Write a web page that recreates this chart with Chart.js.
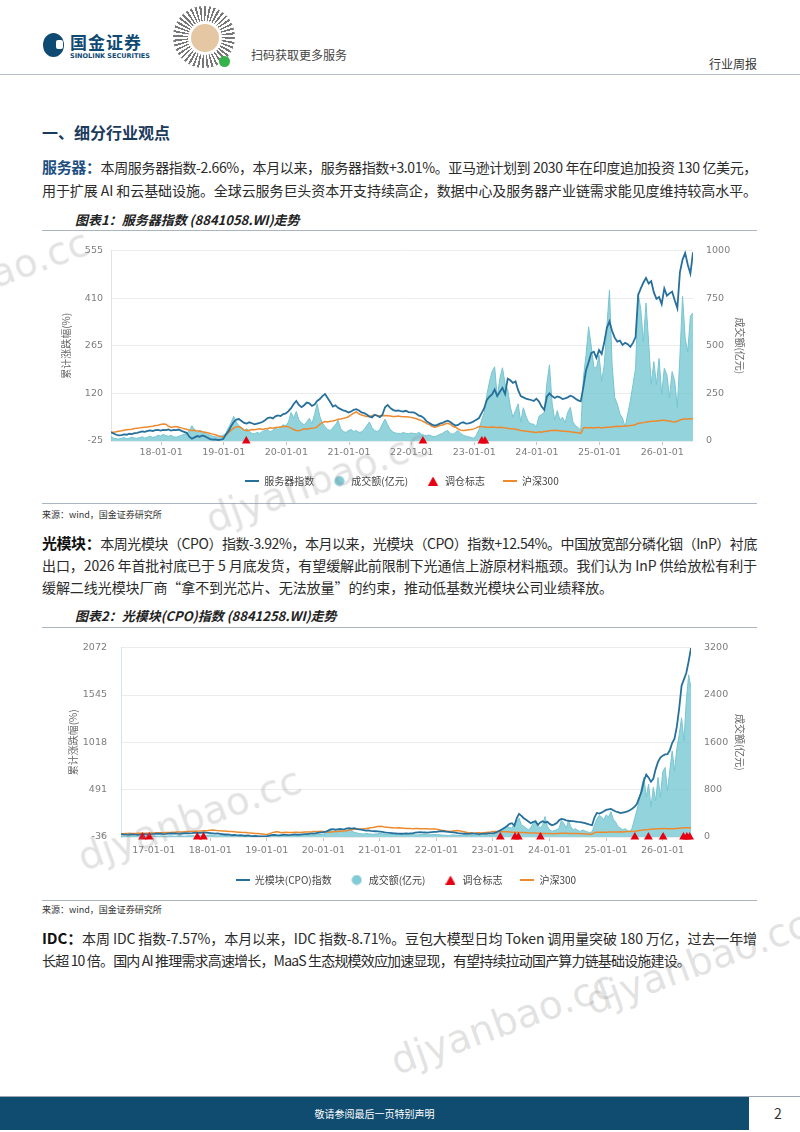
<!DOCTYPE html>
<html lang="zh-CN">
<head>
<meta charset="UTF-8">
<script src="https://cdn.jsdelivr.net/npm/chart.js"></script>
<title>行业周报</title>
<style>
  html, body { margin: 0; padding: 0; }
  body { width: 800px; height: 1132px; position: relative; overflow: hidden; background: #fff;
         font-family: 'Noto Sans CJK SC', sans-serif; color: #2b2b2b; }
  .abs { position: absolute; }
  .rule { position: absolute; left: 42px; width: 715px; height: 0; border-top: 1px solid #a9b5c1; }
  .ln { position: absolute; left: 42px; white-space: nowrap; font-size: 14px; line-height: 20px; color: #2b2b2b; }
  .ln b { color: #111; font-size: 15px; }
  .ln b.blue { color: #1d4f80; }
  .cap { position: absolute; left: 75px; font-size: 13px; line-height: 18px; font-style: italic; font-weight: 700; color: #222; }
  .src { position: absolute; left: 42px; font-size: 9px; line-height: 12px; color: #333; }
  .wm { position: absolute; font-family: 'DejaVu Sans', sans-serif; font-size: 39px; color: rgba(140,140,140,0.25);
        transform: rotate(-20deg); transform-origin: center; white-space: nowrap; }
  canvas { position: absolute; left: 42px; }
</style>
</head>
<body>

<!-- header -->
<div class="abs" style="left:43px;top:33px;width:21px;height:24px;border-radius:50%;background:#0f4a73"></div>
<div class="abs" style="left:56px;top:40px;width:7px;height:9px;border-radius:2px;background:#fff"></div>
<div class="abs" style="left:70px;top:31px;font-size:17px;font-weight:700;color:#0f4a73;letter-spacing:1px;line-height:22px">国金证券</div>
<div class="abs" style="left:70px;top:52px;font-family:'DejaVu Sans',sans-serif;font-size:6.5px;font-weight:700;color:#0f4a73;line-height:8px">SINOLINK SECURITIES</div>
<div class="abs" style="left:173px;top:6px;width:62px;height:62px;border-radius:50%;background:repeating-conic-gradient(#4a4a4a 0 4deg,#fff 4deg 9deg);opacity:.75"></div>
<div class="abs" style="left:188px;top:21px;width:28px;height:28px;border-radius:50%;background:#e5c7a3;border:3px solid #fff"></div>
<div class="abs" style="left:219px;top:56px;width:11px;height:11px;border-radius:50%;background:#35b34a"></div>
<div class="abs" style="left:251px;top:47px;font-size:12px;line-height:16px;color:#444">扫码获取更多服务</div>
<div class="abs" style="left:709px;top:56px;font-size:12px;line-height:16px;color:#333">行业周报</div>
<div class="abs" style="left:0;top:74px;width:800px;border-top:1px solid #b3bdc7"></div>

<div class="abs" style="left:42px;top:121px;font-size:16px;line-height:22px;font-weight:700;color:#1b3a5c">一、细分行业观点</div>

<div class="ln" data-w="715" style="top:157px"><b class="blue">服务器：</b>本周服务器指数-2.66%，本月以来，服务器指数+3.01%。亚马逊计划到 2030 年在印度追加投资 130 亿美元，</div>
<div class="ln" data-w="715" style="top:180px">用于扩展 AI 和云基础设施。全球云服务巨头资本开支持续高企，数据中心及服务器产业链需求能见度维持较高水平。</div>

<div class="cap" style="top:211px">图表1：服务器指数 (8841058.WI)走势</div>
<div class="rule" style="top:230px"></div>
<canvas id="chart1" width="715" height="268" style="top:232px;width:715px;height:268px"></canvas>
<div class="rule" style="top:503px"></div>
<div class="src" style="top:509px">来源：wind，国金证券研究所</div>

<div class="ln" data-w="715" style="top:533px"><b>光模块：</b>本周光模块（CPO）指数-3.92%，本月以来，光模块（CPO）指数+12.54%。中国放宽部分磷化铟（InP）衬底</div>
<div class="ln" data-w="715" style="top:555px">出口，2026 年首批衬底已于 5 月底发货，有望缓解此前限制下光通信上游原材料瓶颈。我们认为 InP 供给放松有利于</div>
<div class="ln" data-w="571" style="top:577px">缓解二线光模块厂商“拿不到光芯片、无法放量”的约束，推动低基数光模块公司业绩释放。</div>

<div class="cap" style="top:607px">图表2：光模块(CPO)指数 (8841258.WI)走势</div>
<div class="rule" style="top:627px"></div>
<canvas id="chart2" width="715" height="270" style="top:628px;width:715px;height:270px"></canvas>
<div class="rule" style="top:900px"></div>
<div class="src" style="top:904px">来源：wind，国金证券研究所</div>

<div class="ln" data-w="715" style="top:928px"><b>IDC：</b>本周 IDC 指数-7.57%，本月以来，IDC 指数-8.71%。豆包大模型日均 Token 调用量突破 180 万亿，过去一年增</div>
<div class="ln" data-w="648" style="top:950px">长超 10 倍。国内 AI 推理需求高速增长，MaaS 生态规模效应加速显现，有望持续拉动国产算力链基础设施建设。</div>

<!-- footer -->
<div class="abs" style="left:0;top:1096px;width:800px;border-top:1px solid #9aa7b3"></div>
<div class="abs" style="left:0;top:1097px;width:749px;height:33px;background:#0f4c70;color:#fff;font-size:10px;line-height:33px;text-align:center">敬请参阅最后一页特别声明</div>
<div class="abs" style="left:770px;top:1103px;width:16px;text-align:center;font-size:14px;line-height:20px;color:#333">2</div>

<!-- watermarks -->
<div class="wm" style="left:-140px;top:258px">djyanbao.cc</div>
<div class="wm" style="left:200px;top:458px">djyanbao.cc</div>
<div class="wm" style="left:72px;top:796px">djyanbao.cc</div>
<div class="wm" style="left:580px;top:940px">djyanbao.cc</div>
<div class="wm" style="left:385px;top:1000px">djyanbao.cc</div>

<script>
// half-month sampling for every series
const step = 1 / 24;

// ---- 图表1 服务器指数 ----
const c1Start = 2017.2;
const c1Years = [2018, 2019, 2020, 2021, 2022, 2023, 2024, 2025, 2026];
const c1LeftTicks = [-25, 120, 265, 410, 555];
const c1RightTicks = [0, 250, 500, 750, 1000];
const c1Marks = [2019.36, 2022.18, 2023.12, 2023.17];

const c1Index = [
  2, -2, -6, -8, -7, -5, -6, -3, -4, -1, 0, 2, 4, 3, 6, 7, 5, 8, 9, 7,
  9, 8, 10, 7, 9, 8, 10, 6, 3, 0, -12, -18, -14, -10, -12, -8, -11, -15, -19, -21, -20, -22, -21, -19,
  -5, 5, 20, 33, 40, 42, 36, 30, 28, 32, 29, 26, 28, 30, 33, 38, 45, 47, 44, 50, 53, 51, 57, 59,
  66, 75, 88, 97, 85, 78, 84, 92, 90, 82, 86, 97, 103, 112, 118, 106, 94, 80, 84, 76, 72, 68, 66, 62,
  65, 70, 72, 68, 62, 60, 56, 50, 47, 55, 52, 48, 55, 78, 85, 76, 70, 67, 68, 66, 65, 67, 63, 62,
  62, 58, 52, 50, 44, 34, 30, 25, 22, 24, 28, 30, 34, 37, 33, 27, 22, 24, 30, 32, 28, 29, 31, 35,
  40, 45, 60, 75, 100, 110, 117, 132, 112, 125, 137, 118, 165, 160, 152, 157, 130, 112, 108, 104, 102, 100, 97, 104,
  95, 80, 70, 110, 120, 112, 106, 111, 108, 103, 105, 108, 113, 110, 104, 99, 96, 140, 190, 215, 243, 247, 228, 252,
  240, 275, 320, 340, 310, 290, 278, 281, 268, 274, 270, 262, 274, 292, 420, 440, 458, 472, 455, 462, 428, 408, 414, 392,
  440, 418, 425, 430, 404, 380, 490, 528, 548, 512, 485, 550
];
const c1Volume = [
  25, 15, 12, 10, 14, 18, 12, 15, 20, 16, 14, 18, 22, 15, 20, 25, 18, 22, 30, 26,
  35, 28, 25, 30, 22, 20, 25, 30, 35, 40, 55, 80, 60, 45, 55, 50, 40, 35, 30, 25, 22, 20, 25, 30,
  40, 70, 95, 130, 100, 80, 70, 55, 65, 50, 40, 38, 45, 40, 50, 55, 60, 48, 55, 70, 60, 75, 85, 80,
  100, 150, 120, 155, 110, 95, 85, 100, 120, 90, 140, 195, 130, 95, 75, 60, 55, 70, 85, 108, 65, 50, 45, 55,
  60, 50, 55, 45, 48, 60, 80, 100, 70, 55, 50, 60, 90, 115, 85, 60, 48, 42, 40, 38, 45, 40, 38, 42,
  40, 38, 45, 35, 30, 28, 32, 25, 22, 28, 35, 40, 50, 55, 40, 35, 45, 55, 40, 30, 25, 22, 18, 15,
  30, 60, 110, 150, 240, 310, 365, 390, 230, 330, 385, 300, 270, 180, 125, 160, 195, 100, 175, 130, 98, 90, 88, 75,
  130, 140, 150, 300, 400, 200, 110, 160, 110, 125, 95, 150, 177, 100, 80, 70, 57, 330, 450, 600, 500, 390, 382, 450,
  314, 400, 600, 794, 400, 228, 194, 142, 120, 74, 142, 211, 297, 382, 777, 691, 520, 725, 520, 297, 417, 297, 434, 245,
  382, 348, 228, 365, 314, 177, 450, 760, 540, 468, 657, 674
];
const c1Hs300 = [
  1, 2, 3, 5, 6, 8, 9, 10, 11, 13, 14, 15, 16, 17, 18, 19, 20, 22, 23, 25,
  27, 26, 20, 17, 18, 19, 17, 15, 12, 11, 8, 7, 8, 6, 5, 3, 2, 0, -2, -4, -6, -9, -11, -13,
  -8, 0, 8, 14, 18, 19, 15, 8, 6, 8, 10, 9, 11, 12, 10, 12, 13, 15, 14, 16, 17, 18, 19, 20,
  18, 14, 10, 7, 6, 9, 12, 11, 13, 14, 15, 18, 26, 31, 34, 33, 35, 36, 38, 41, 42, 44, 46, 49,
  55, 60, 64, 58, 54, 52, 50, 49, 52, 54, 53, 51, 52, 53, 52, 51, 50, 50, 51, 50, 49, 49, 48, 47,
  45, 43, 40, 37, 33, 28, 25, 20, 17, 19, 22, 24, 27, 29, 26, 20, 17, 12, 8, 7, 8, 9, 10, 12,
  15, 19, 19, 18, 17, 17, 18, 17, 16, 17, 16, 15, 14, 12, 12, 11, 9, 7, 6, 5, 4, 3, 2, 1,
  3, 2, 4, 5, 6, 7, 8, 7, 6, 5, 5, 4, 3, 2, 1, 0, -2, 15, 16, 15, 16, 15, 16, 16,
  15, 16, 17, 17, 18, 19, 20, 19, 20, 21, 21, 22, 23, 25, 29, 30, 31, 33, 34, 35, 35, 36, 37, 38,
  38, 37, 36, 34, 33, 35, 39, 41, 42, 42, 43, 43
];

// ---- 图表2 光模块(CPO)指数 ----
const c2Start = 2016.42;
const c2Years = [2017, 2018, 2019, 2020, 2021, 2022, 2023, 2024, 2025, 2026];
const c2LeftTicks = [-36, 491, 1018, 1545, 2072];
const c2RightTicks = [0, 800, 1600, 2400, 3200];
const c2Marks = [2016.80, 2016.92, 2017.77, 2017.88, 2023.13, 2023.39, 2023.45, 2023.84,
                 2025.51, 2025.75, 2026.01, 2026.37, 2026.43, 2026.48];

const c2Index = [
  -5, -8, -10, -12, -8, -6, -10, -12, -9, -7, -5, -8, -6, -4,
  -2, 0, 2, 0, -3, -1, 2, 4, 3, 5, 2, 0, 3, 6, 8, 5, 7, 10, 12, 9, 11, 14, 12, 10,
  8, 5, 2, 4, 0, -4, -8, -6, -10, -14, -12, -16, -18, -15, -20, -22, -19, -24, -26, -23, -27, -29, -28, -30,
  -26, -20, -15, -12, -16, -18, -14, -10, -12, -15, -13, -10, -8, -11, -9, -6, -3, -5, 0, 4, 2, 8, 12, 15,
  18, 25, 35, 48, 52, 45, 50, 55, 48, 52, 60, 63, 58, 62, 55, 50, 45, 40, 35, 38, 32, 30, 28, 26,
  24, 20, 15, 12, 10, 8, 5, 3, 2, 0, 1, 3, 2, 5, 8, 12, 15, 18, 16, 14, 12, 15, 18, 20,
  22, 26, 30, 28, 25, 22, 18, 15, 12, 8, 5, 2, 0, -2, 0, 3, 1, -2, -4, -1, 2, 0, 3, 5,
  5, 12, 26, 38, 52, 70, 89, 111, 118, 89, 173, 221, 199, 173, 155, 137, 118, 133, 137, 100, 126, 140, 126, 133,
  110, 95, 105, 120, 150, 165, 160, 150, 145, 142, 140, 136, 132, 130, 125, 118, 110, 102, 96, 180, 232, 225, 235, 250,
  266, 272, 277, 262, 248, 240, 230, 236, 242, 248, 262, 278, 300, 330, 400, 470, 590, 660, 625, 580, 612, 720, 800, 848,
  870, 884, 886, 930, 1010, 1060, 1195, 1400, 1650, 1720, 1790, 1920, 2068
];
const c2Volume = [
  15, 12, 10, 14, 18, 12, 10, 15, 12, 10, 14, 12, 15, 18,
  20, 15, 12, 18, 14, 12, 16, 20, 15, 12, 18, 22, 16, 14, 18, 20, 25, 18, 15, 20, 22, 18, 25, 30,
  35, 28, 20, 18, 22, 25, 30, 20, 18, 15, 20, 25, 18, 15, 12, 14, 18, 15, 12, 10, 12, 14, 10, 12,
  15, 25, 40, 35, 30, 25, 20, 22, 18, 20, 25, 30, 22, 18, 25, 30, 35, 28, 25, 30, 35, 40, 45, 40,
  50, 70, 90, 110, 95, 80, 100, 120, 90, 85, 110, 130, 100, 80, 70, 60, 55, 50, 60, 55, 50, 45, 50, 55,
  60, 55, 50, 45, 40, 45, 50, 55, 50, 45, 40, 38, 42, 45, 40, 38, 35, 40, 45, 42, 40, 38, 40, 42,
  40, 38, 35, 30, 28, 25, 30, 35, 32, 28, 25, 30, 28, 25, 22, 25, 28, 30, 25, 22, 20, 22, 25, 30,
  35, 50, 80, 95, 120, 150, 178, 160, 150, 223, 260, 318, 206, 180, 150, 123, 160, 234, 290, 200, 150, 200, 346, 178,
  120, 95, 110, 123, 150, 280, 234, 150, 280, 170, 123, 140, 110, 95, 120, 100, 85, 78, 84, 200, 300, 364, 340, 290,
  374, 336, 429, 300, 250, 178, 150, 123, 140, 110, 95, 150, 300, 447, 615, 839, 1007, 671, 895, 503, 839, 615, 1007, 671,
  1100, 1175, 783, 1119, 1454, 1119, 1500, 1734, 2014, 1622, 2294, 2741, 2517
];
const c2Hs300 = [
  0, 1, 2, 2, 3, 4, 4, 5, 6, 5, 6, 7, 8, 8,
  9, 10, 11, 12, 12, 13, 14, 15, 17, 18, 19, 20, 21, 23, 24, 25, 27, 28, 29, 30, 32, 33, 34, 36,
  40, 42, 38, 35, 33, 32, 30, 28, 26, 24, 22, 20, 18, 16, 15, 13, 10, 8, 6, 4, 2, 0, -3, -6,
  -8, 0, 10, 18, 22, 20, 12, 14, 16, 15, 13, 15, 16, 17, 15, 18, 20, 19, 21, 22, 24, 25, 26, 27,
  26, 22, 18, 20, 22, 24, 26, 28, 30, 32, 36, 42, 46, 50, 52, 51, 53, 55, 58, 62, 66, 70, 75, 80,
  84, 80, 74, 72, 70, 68, 66, 65, 66, 64, 62, 60, 60, 58, 57, 58, 59, 57, 56, 55, 55, 54, 53, 52,
  50, 45, 40, 36, 30, 28, 25, 30, 34, 36, 32, 26, 20, 14, 10, 8, 6, 10, 12, 8, 10, 14, 18, 20,
  24, 26, 25, 24, 22, 23, 22, 20, 18, 18, 17, 15, 14, 13, 12, 10, 9, 8, 8, 6, 5, 4, 4, 3,
  2, 0, 1, 3, 4, 5, 6, 5, 4, 3, 2, 3, 2, 1, 0, -2, -3, -4, -6, 15, 18, 17, 16, 18,
  18, 19, 20, 19, 20, 21, 22, 21, 23, 24, 25, 26, 28, 32, 36, 40, 44, 46, 47, 50, 52, 54, 55, 56,
  58, 58, 57, 56, 55, 57, 60, 62, 64, 66, 67, 68, 68
];

// ---- drawing ----
const BLUE = '#26709b', TEAL = '#82cbd6', ORANGE = '#ee8a2e', RED = '#e60012';
const NUM = "'DejaVu Sans', 'Noto Sans CJK SC', sans-serif";
const CJK = "'Noto Sans CJK SC', sans-serif";

function icon(kind, color) {
  const c = document.createElement('canvas');
  const g = c.getContext('2d');
  if (kind === 'line') {
    c.width = 14; c.height = 4; g.fillStyle = color; g.fillRect(0, 1, 14, 2);
  } else if (kind === 'dot') {
    c.width = 11; c.height = 11; g.fillStyle = color;
    g.beginPath(); g.arc(5.5, 5.5, 5, 0, Math.PI * 2); g.fill();
  } else {
    c.width = 10; c.height = 9; g.fillStyle = color;
    g.beginPath(); g.moveTo(5, 0); g.lineTo(10, 9); g.lineTo(0, 9); g.closePath(); g.fill();
  }
  return c;
}

function makeChart(id, cfg) {
  const pts = vals => vals.map((v, i) => ({ x: cfg.start + i * step, y: v }));
  const xMax = cfg.start + (cfg.index.length - 1) * step;
  const icons = [icon('line', BLUE), icon('dot', TEAL), icon('tri', RED), icon('line', ORANGE)];
  const tickFont = { size: 9.5, family: NUM };

  new Chart(document.getElementById(id), {
    type: 'line',
    data: {
      datasets: [
        { label: cfg.name, data: pts(cfg.index), yAxisID: 'y', borderColor: BLUE, borderWidth: 1.8,
          pointRadius: 0, order: 1 },
        { label: '成交额(亿元)', data: pts(cfg.volume), yAxisID: 'y1', borderColor: '#78c5d1', borderWidth: 1,
          backgroundColor: 'rgba(110,196,208,0.75)', fill: 'origin', pointRadius: 0, order: 3 },
        { label: '调仓标志', data: cfg.marks.map(d => ({ x: d, y: cfg.left[0] })), yAxisID: 'y',
          showLine: false, pointStyle: 'triangle', pointRadius: 5, pointBackgroundColor: RED,
          pointBorderColor: RED, pointBorderWidth: 0, clip: false, order: 0 },
        { label: '沪深300', data: pts(cfg.hs300), yAxisID: 'y', borderColor: ORANGE, borderWidth: 1.5,
          pointRadius: 0, order: 2 }
      ]
    },
    options: {
      responsive: false,
      animation: false,
      devicePixelRatio: 1,
      layout: { padding: { top: cfg.padTop, bottom: cfg.padBottom, left: 0, right: 0 } },
      plugins: {
        tooltip: { enabled: false },
        legend: {
          position: 'bottom',
          fullSize: false,
          labels: {
            usePointStyle: true, pointStyleWidth: 14, boxHeight: 10, padding: 18,
            color: '#444', font: { size: 10, family: CJK },
            generateLabels: chart => chart.data.datasets.map((ds, i) => ({
              text: ds.label, pointStyle: icons[i], datasetIndex: i, hidden: false, fontColor: '#444',
              fillStyle: 'rgba(0,0,0,0)', strokeStyle: 'rgba(0,0,0,0)', lineWidth: 0
            }))
          }
        }
      },
      scales: {
        x: {
          type: 'linear', bounds: 'data', min: cfg.start, max: xMax,
          afterBuildTicks: s => { s.ticks = cfg.years.map(v => ({ value: v })); },
          afterFit: s => { s.height = cfg.xHeight; },
          grid: { display: true, drawOnChartArea: false, drawTicks: true, tickLength: 4, color: '#c4c4c4' },
          border: { display: false },
          ticks: { padding: cfg.xPad, autoSkip: false, maxRotation: 0, color: '#7d7d7d', font: tickFont,
                   callback: v => String(v).slice(2) + '-01-01' }
        },
        y: {
          position: 'left', bounds: 'data', min: cfg.left[0], max: cfg.left[cfg.left.length - 1],
          afterBuildTicks: s => { s.ticks = cfg.left.map(v => ({ value: v })); },
          afterFit: s => { s.width = cfg.leftW; },
          grid: { color: '#ebebeb', drawTicks: false },
          border: { display: true, color: cfg.leftBorder },
          ticks: { padding: cfg.leftPad, color: '#7d7d7d', font: tickFont, callback: v => String(v) },
          title: { display: true, text: '累计涨跌幅(%)', color: '#666', font: { size: 10, family: CJK },
                   padding: { top: cfg.leftTitlePad, bottom: 0 } }
        },
        y1: {
          position: 'right', bounds: 'data', min: 0, max: cfg.right[cfg.right.length - 1],
          afterBuildTicks: s => { s.ticks = cfg.right.map(v => ({ value: v })); },
          afterFit: s => { s.width = cfg.rightW; },
          grid: { drawOnChartArea: false, drawTicks: false },
          border: { display: false },
          ticks: { padding: 13, color: '#7d7d7d', font: tickFont, callback: v => String(v) },
          title: { display: true, text: '成交额(亿元)', color: '#666', font: { size: 10, family: CJK },
                   padding: { top: 11, bottom: 0 } }
        }
      }
    }
  });
}

makeChart('chart1', {
  name: '服务器指数', start: c1Start, years: c1Years, left: c1LeftTicks, right: c1RightTicks,
  index: c1Index, volume: c1Volume, hs300: c1Hs300, marks: c1Marks,
  padTop: 15, padBottom: 4, xHeight: 17, xPad: 2, leftW: 69, rightW: 64, leftPad: 8,
  leftTitlePad: 18, leftBorder: '#e2e2e2'
});
makeChart('chart2', {
  name: '光模块(CPO)指数', start: c2Start, years: c2Years, left: c2LeftTicks, right: c2RightTicks,
  index: c2Index, volume: c2Volume, hs300: c2Hs300, marks: c2Marks,
  padTop: 18, padBottom: 3, xHeight: 20, xPad: 4, leftW: 79, rightW: 66, leftPad: 14,
  leftTitlePad: 25, leftBorder: '#d3e2ee'
});

// stretch / squeeze each text line to the measured width of the original
document.fonts.ready.then(() => {
  document.querySelectorAll('.ln').forEach(el => {
    el.style.letterSpacing = '0px';
    const w = el.getBoundingClientRect().width;
    const n = el.textContent.length;
    el.style.letterSpacing = ((+el.dataset.w - w) / n) + 'px';
  });
});
</script>
</body>
</html>
